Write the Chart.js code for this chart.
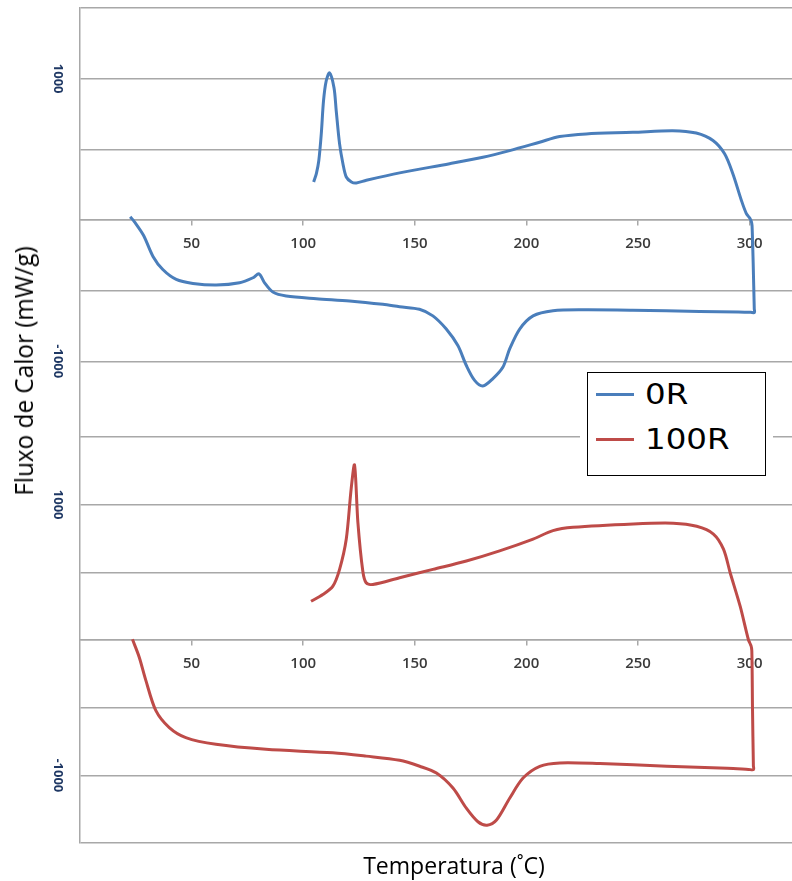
<!DOCTYPE html>
<html>
<head>
<meta charset="utf-8">
<script src="https://cdn.jsdelivr.net/npm/chart.js@4.4.0/dist/chart.umd.min.js"></script>
<style>
  body { margin: 0; background: #fff; width: 792px; height: 881px; position: relative; overflow: hidden; font-family: 'Open Sans', sans-serif; }
  .panel { position: absolute; left: 0; width: 792px; }
  #topPanel { top: 0; height: 440px; }
  #bottomPanel { top: 430px; height: 451px; }
  #yTitle { position: absolute; left: 23px; top: 371px; transform: translate(-50%, -50%) rotate(-90deg) scaleX(0.935); white-space: nowrap; font-size: 26px; color: #000; }
  #xTitle { position: absolute; left: 454px; top: 864px; transform: translate(-50%, -50%) scaleX(0.96); white-space: nowrap; font-size: 24px; color: #000; }
  #legend { position: absolute; left: 587px; top: 372px; width: 177px; height: 102px; border: 1px solid #000; outline: 7px solid #fff; background: #fff; font-family: 'DejaVu Sans', sans-serif; font-size: 29px; }
  #legend .item { position: absolute; left: 8px; height: 40px; display: flex; align-items: center; }
  #legend .line { width: 38px; height: 3px; margin-right: 11px; }
  #legend .name { display: inline-block; transform: scaleX(1.12); transform-origin: left center; }
</style>
</head>
<body>
<div class="panel" id="topPanel"><canvas id="chartTop"></canvas></div>
<div class="panel" id="bottomPanel"><canvas id="chartBottom"></canvas></div>
<div id="yTitle">Fluxo de Calor (mW/g)</div>
<div id="xTitle">Temperatura (˚C)</div>
<div id="legend"></div>
<script>
// 0R: heating (goes down) then cooling (comes back up), temperature in °C, flux in mW/g
const temps0R = [22.5, 24.5, 28.5, 32.7, 37.1, 43.1, 50.6, 61, 71.5, 77.5, 80.2, 82.7, 86.4, 92.4, 105.9, 120.8, 135.7, 143.2, 152.1, 158.1, 164.1, 169.3, 173.1, 176.8, 180.5, 185, 189.5, 192.5, 197, 203, 211.9, 225.3, 247.7, 277.6, 295, 300.5, 302.2,
  302.1, 301.6, 301.1, 300.8, 300.2, 298.5, 296.3, 292.5, 288.8, 283.6, 276.1, 265.6, 247.7, 226.8, 214.9, 205.9, 192.5, 180.5, 165.6, 143.2, 128.3, 123.8, 121.6, 119.3, 117.8, 116.3, 114.8, 113.8, 111.8, 110.3, 109.1, 108.1, 107, 105.9, 104.7];
const flux0R = [23, -15, -110, -258, -351, -421, -449, -461, -445, -409, -381, -445, -510, -538, -557, -573, -597, -614, -632, -679, -772, -889, -1030, -1135, -1175, -1123, -1041, -913, -772, -679, -643, -636, -639, -648, -652, -654, -655,
  -630, -300, -40, -12, 10, 47, 140, 327, 468, 562, 615, 632, 620, 609, 590, 550, 491, 444, 398, 333, 281, 262, 269, 304, 398, 538, 772, 936, 1041, 983, 842, 609, 421, 328, 269];

// 100R
const temps100R = [23.5, 26.5, 29.5, 34, 40, 47.4, 60.9, 83.3, 113.2, 128.2, 143.2, 152.2, 159.7, 167.1, 173.1, 178.3, 182.4, 186.6, 192.5, 198.5, 206, 215, 232.9, 262.9, 290, 299.5, 301.8,
  301.7, 301.3, 301.0, 300.6, 299.5, 295.8, 291.3, 288.3, 283.8, 276.3, 265.8, 247.9, 220.9, 211.9, 203, 188, 173.1, 158.1, 143.2, 131.2, 128.2, 126.7, 124.5, 123, 121.5, 119.3, 116.3, 113.3, 108.8, 103.5];
const flux100R = [5, -125, -298, -522, -647, -721, -771, -808, -833, -858, -889, -933, -983, -1094, -1243, -1343, -1368, -1330, -1169, -1020, -933, -908, -913, -933, -948, -956, -958,
  -930, -500, -80, -40, 0, 248, 497, 671, 783, 840, 863, 858, 833, 808, 746, 659, 584, 522, 460, 410, 423, 510, 870, 1293, 1119, 746, 522, 398, 336, 286];

const seriesNames = ['0R', '100R'];
const xTickValues = [50, 100, 150, 200, 250, 300];
const yGridValues = [-1500, -1000, -500, 0, 500, 1000, 1500];
const yLabelValues = [-1000, 1000];

const colors = ['#4A7EBB', '#BE4B48'];
const gridColor = '#a8a8a8';

const toPoints = (temps, flux) => temps.map((t, i) => ({ x: t, y: flux[i] }));

const makeChart = (id, name, temps, flux, color, yMin, yMax, gridValues, padding) => {
    return new Chart(document.getElementById(id), {
        type: 'line',
        data: {
            datasets: [{
                label: name,
                data: toPoints(temps, flux),
                borderColor: color,
                borderWidth: 3,
                pointRadius: 0,
                tension: 0.3,
                fill: false
            }]
        },
        options: {
            responsive: true,
            maintainAspectRatio: false,
            animation: false,
            layout: { padding: padding },
            plugins: { legend: { display: false }, tooltip: { enabled: false } },
            scales: {
                x: {
                    type: 'linear',
                    min: 0,
                    max: 319,
                    position: { y: 0 },
                    afterBuildTicks: (s) => { s.ticks = xTickValues.map(v => ({ value: v })); },
                    afterFit: (s) => { s.paddingLeft = 0; s.paddingRight = 0; },
                    grid: { drawOnChartArea: false, drawTicks: true, tickLength: 5, color: gridColor, lineWidth: 1.5 },
                    border: { display: true, color: gridColor, width: 1.5 },
                    ticks: {
                        autoSkip: false,
                        maxRotation: 0,
                        padding: 10,
                        color: '#3a3a3a',
                        font: { family: 'Open Sans', size: 15, weight: '600' }
                    }
                },
                y: {
                    type: 'linear',
                    min: yMin,
                    max: yMax,
                    afterBuildTicks: (s) => { s.ticks = gridValues.map(v => ({ value: v })); },
                    afterFit: (s) => { s.width = 80; s.paddingTop = 0; s.paddingBottom = 0; },
                    grid: { drawTicks: false, color: gridColor, lineWidth: 1.5 },
                    border: { display: true, color: gridColor, width: 1.5 },
                    ticks: {
                        minRotation: -90,
                        maxRotation: -90,
                        crossAlign: 'center',
                        padding: 5,
                        color: '#1f3864',
                        font: { family: 'Open Sans', size: 13, weight: 'bold' },
                        callback: (v) => yLabelValues.includes(v) ? String(v) : ''
                    }
                }
            }
        }
    });
};

// top panel has no line of its own at the bottom, the bottom panel's top line sits there
const topGrid = yGridValues.filter(v => v > -1500);
const chartTop = makeChart('chartTop', seriesNames[0], temps0R, flux0R, colors[0], -1536, 1500, topGrid, { top: 8, bottom: 3, left: 0, right: 0 });
const chartBottom = makeChart('chartBottom', seriesNames[1], temps100R, flux100R, colors[1], -1500, 1500, yGridValues, { top: 7, bottom: 38, left: 0, right: 0 });

// legend in the middle, over the join of the two panels
let html = '';
seriesNames.forEach((name, i) => {
    html += `<div class="item" style="top:${i === 0 ? 1 : 46}px"><span class="line" style="background:${colors[i]}"></span><span class="name">${name}</span></div>`;
});
document.getElementById('legend').innerHTML = html;
</script>
</body>
</html>
